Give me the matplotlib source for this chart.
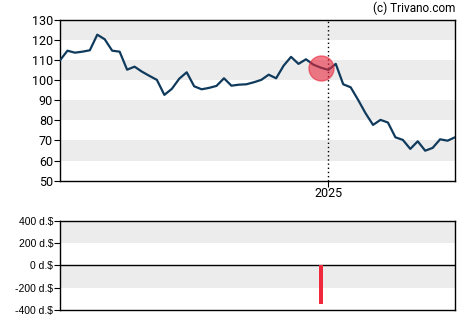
import numpy as np
import pandas as pd
import matplotlib
matplotlib.use("Agg")
import matplotlib.pyplot as plt

# weekly closing prices
prices = [110.1, 114.9, 113.9, 114.4, 115.1, 122.9, 120.6, 114.9, 114.4, 105.4,
          106.9, 104.4, 102.3, 100.3, 92.8, 95.8, 100.9, 104.1, 97.1, 95.6,
          96.3, 97.3, 101.1, 97.4, 97.9, 98.1, 99.1, 100.3, 102.9, 101.1,
          107.4, 111.8, 108.3, 110.6, 107.9, 106.4, 105.3, 108.3, 98.1, 96.6,
          90.3, 83.6, 77.8, 80.3, 79.0, 71.6, 70.3, 65.8, 69.6, 64.9,
          66.3, 70.6, 69.9, 71.6]
dates = pd.date_range("2024-04-24", periods=len(prices), freq="7D")

# dividend event
event_date = pd.Timestamp("2024-12-25")
event_price = 106.0
event_value = -345

year_tick = pd.Timestamp("2025-01-01")
price_ticks = [50, 60, 70, 80, 90, 100, 110, 120, 130]
bar_ticks = [-400, -200, 0, 200, 400]
bar_labels = ["-400 d.$", "-200 d.$", "0 d.$", "200 d.$", "400 d.$"]

line_color = "#0f3a5c"
band_color = "#ececec"

fig = plt.figure(figsize=(4.7, 3.25), dpi=100)
ax = fig.add_axes([0.1277, 0.4446, 0.8404, 0.4924])
ax2 = fig.add_axes([0.1277, 0.046, 0.8404, 0.275])

# price panel
for lo in [60, 80, 100, 120]:
    ax.axhspan(lo, lo + 10, color=band_color, zorder=0, lw=0)
ax.plot(dates, prices, color=line_color, lw=1.6, zorder=3)
ax.plot([event_date], [event_price], "o", ms=18, color="#e8283c", alpha=0.6,
        mec="#e8283c", zorder=4)
ax.axvline(year_tick, color="black", ls=(0, (1, 2)), lw=1, zorder=2)
ax.set_xlim(dates[0], dates[-1])
ax.set_ylim(50, 130)
ax.set_yticks(price_ticks)
ax.set_xticks([year_tick])
ax.set_xticklabels(["2025"])
ax.tick_params(labelsize=9, length=4, pad=1)
for lab in ax.get_xticklabels() + ax.get_yticklabels():
    lab.set_family("Roboto")
for s in ax.spines.values():
    s.set_linewidth(1)

fig.text(0.968, 0.975, "(c) Trivano.com", ha="right", va="center",
         fontsize=8.5, family="Roboto")

# dividend panel
ax2.axhspan(200, 400, color=band_color, zorder=0, lw=0)
ax2.axhspan(-200, 0, color=band_color, zorder=0, lw=0)
ax2.axhline(0, color="black", lw=1, zorder=2)
ax2.bar([event_date], [event_value], width=4.2, color="#f0283c", zorder=3)
ax2.set_xlim(dates[0], dates[-1])
ax2.set_ylim(-400, 400)
ax2.set_yticks(bar_ticks)
ax2.set_yticklabels(bar_labels)
ax2.set_xticks([])
ax2.tick_params(labelsize=7.5, length=4, pad=1)
for lab in ax2.get_yticklabels():
    lab.set_family("Liberation Sans")
for s in ax2.spines.values():
    s.set_linewidth(1)

fig.savefig("out.png", dpi=100)
